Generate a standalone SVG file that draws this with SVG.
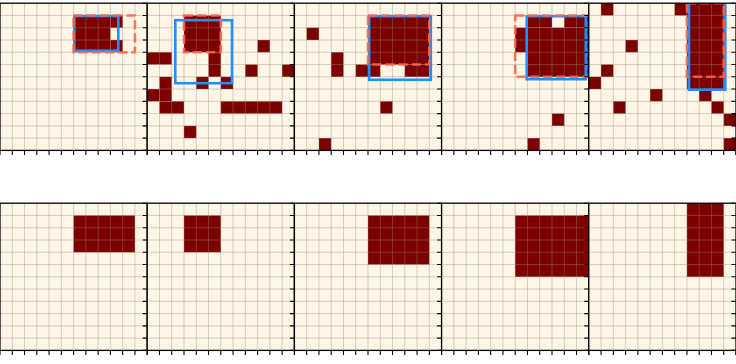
<svg xmlns="http://www.w3.org/2000/svg" width="736" height="364" viewBox="0 0 736 364">
<style>
.bg{fill:#fdf5e6}
.cell{fill:#7d0000}
.grid{fill:none;stroke:#9c8a78;stroke-opacity:0.38;stroke-width:1}
.frame{fill:none;stroke:#000;stroke-width:1.3}
.ticks{fill:none;stroke:#000;stroke-width:1.1}
.gt{fill:none;stroke:#ff6347;stroke-opacity:0.88;stroke-width:2.6;stroke-dasharray:9.2 4}
.pred{fill:none;stroke:#1e90ff;stroke-width:2.6}
</style>
<defs>
<rect id="bgr" class="bg" x="0" y="0" width="147.2" height="147.2"/>
<path id="grid" class="grid" d="M12.27 0V147.2M24.53 0V147.2M36.8 0V147.2M49.07 0V147.2M61.33 0V147.2M73.6 0V147.2M85.87 0V147.2M98.13 0V147.2M110.4 0V147.2M122.67 0V147.2M134.93 0V147.2M0 12.27H147.2M0 24.53H147.2M0 36.8H147.2M0 49.07H147.2M0 61.33H147.2M0 73.6H147.2M0 85.87H147.2M0 98.13H147.2M0 110.4H147.2M0 122.67H147.2M0 134.93H147.2"/>
<rect id="frame" class="frame" x="0" y="0" width="147.2" height="147.2"/>
<path id="ticks" class="ticks" d="M0 147.2v4.5M12.27 147.2v4.5M24.53 147.2v4.5M36.8 147.2v4.5M49.07 147.2v4.5M61.33 147.2v4.5M73.6 147.2v4.5M85.87 147.2v4.5M98.13 147.2v4.5M110.4 147.2v4.5M122.67 147.2v4.5M134.93 147.2v4.5M147.2 147.2v4.5M-4.5 0h4.5M-4.5 12.27h4.5M-4.5 24.53h4.5M-4.5 36.8h4.5M-4.5 49.07h4.5M-4.5 61.33h4.5M-4.5 73.6h4.5M-4.5 85.87h4.5M-4.5 98.13h4.5M-4.5 110.4h4.5M-4.5 122.67h4.5M-4.5 134.93h4.5M-4.5 147.2h4.5"/>
<clipPath id="c1"><rect x="0" y="3.2" width="147.2" height="147.2"/></clipPath>
<clipPath id="c2"><rect x="147.2" y="3.2" width="147.2" height="147.2"/></clipPath>
<clipPath id="c3"><rect x="294.4" y="3.2" width="147.2" height="147.2"/></clipPath>
<clipPath id="c4"><rect x="441.6" y="3.2" width="147.2" height="147.2"/></clipPath>
<clipPath id="c5"><rect x="588.8" y="3.2" width="147.2" height="147.2"/></clipPath>
</defs>

<g id="top-1">
<use href="#bgr" x="0" y="3.2"/>
<g class="cell" transform="translate(0,3.2) scale(12.2667)">
<rect x="6" y="1" width="3" height="3"/><rect x="9" y="1" width="1" height="1"/><rect x="9" y="3" width="1" height="1"/>
</g>
<use href="#grid" x="0" y="3.2"/>
<g clip-path="url(#c1)">
<rect class="pred" x="74.3" y="16" width="44" height="34.7"/>
<rect class="gt" x="73.6" y="15.47" width="61.33" height="36.8"/>
</g>
<use href="#frame" x="0" y="3.2"/>
<use href="#ticks" x="0" y="3.2"/>
</g>

<g id="top-2">
<use href="#bgr" x="147.2" y="3.2"/>
<g class="cell" transform="translate(147.2,3.2) scale(12.2667)">
<rect x="0" y="4" width="2" height="1"/><rect x="3" y="1" width="3" height="3"/><rect x="5" y="4" width="1" height="2"/>
<rect x="9" y="3" width="1" height="1"/><rect x="8" y="5" width="1" height="1"/><rect x="11" y="5" width="1" height="1"/>
<rect x="4" y="6" width="1" height="1"/><rect x="6" y="6" width="1" height="1"/><rect x="1" y="6" width="1" height="2"/>
<rect x="0" y="7" width="1" height="1"/><rect x="1" y="8" width="2" height="1"/><rect x="6" y="8" width="5" height="1"/>
<rect x="3" y="10" width="1" height="1"/>
</g>
<use href="#grid" x="147.2" y="3.2"/>
<g clip-path="url(#c2)">
<rect class="pred" x="175.3" y="20.2" width="56.7" height="63"/>
<rect class="gt" x="184" y="15.47" width="36.8" height="36.8"/>
</g>
<use href="#frame" x="147.2" y="3.2"/>
<use href="#ticks" x="147.2" y="3.2"/>
</g>

<g id="top-3">
<use href="#bgr" x="294.4" y="3.2"/>
<g class="cell" transform="translate(294.4,3.2) scale(12.2667)">
<rect x="1" y="2" width="1" height="1"/><rect x="3" y="4" width="1" height="2"/><rect x="5" y="5" width="1" height="1"/>
<rect x="6" y="1" width="5" height="4"/><rect x="6" y="5" width="1" height="1"/><rect x="9" y="5" width="2" height="1"/>
<rect x="7" y="8" width="1" height="1"/><rect x="2" y="11" width="1" height="1"/>
</g>
<use href="#grid" x="294.4" y="3.2"/>
<g clip-path="url(#c3)">
<rect class="pred" x="369.2" y="16.2" width="61.6" height="63.6"/>
<rect class="gt" x="368" y="15.47" width="61.33" height="49.07"/>
</g>
<use href="#frame" x="294.4" y="3.2"/>
<use href="#ticks" x="294.4" y="3.2"/>
</g>

<g id="top-4">
<use href="#bgr" x="441.6" y="3.2"/>
<g class="cell" transform="translate(441.6,3.2) scale(12.2667)">
<rect x="6" y="2" width="1" height="2"/><rect x="7" y="1" width="2" height="1"/><rect x="10" y="1" width="2" height="1"/>
<rect x="7" y="2" width="5" height="4"/><rect x="9" y="9" width="1" height="1"/><rect x="7" y="11" width="1" height="1"/>
</g>
<use href="#grid" x="441.6" y="3.2"/>
<g clip-path="url(#c4)">
<rect class="pred" x="526.7" y="16.2" width="59.1" height="63"/>
<rect class="gt" x="515.2" y="15.47" width="73.6" height="61.33"/>
</g>
<use href="#frame" x="441.6" y="3.2"/>
<use href="#ticks" x="441.6" y="3.2"/>
</g>

<g id="top-5">
<use href="#bgr" x="588.8" y="3.2"/>
<g class="cell" transform="translate(588.8,3.2) scale(12.2667)">
<rect x="1" y="0" width="1" height="1"/><rect x="7" y="0" width="1" height="1"/><rect x="8" y="0" width="3" height="7"/>
<rect x="3" y="3" width="1" height="1"/><rect x="1" y="5" width="1" height="1"/><rect x="0" y="6" width="1" height="1"/>
<rect x="5" y="7" width="1" height="1"/><rect x="9" y="7" width="1" height="1"/><rect x="2" y="8" width="1" height="1"/>
<rect x="10" y="8" width="1" height="1"/><rect x="11" y="9" width="1" height="1"/><rect x="11" y="11" width="1" height="1"/>
</g>
<use href="#grid" x="588.8" y="3.2"/>
<g clip-path="url(#c5)">
<rect class="pred" x="689" y="2" width="36.3" height="87.7"/>
<rect class="gt" x="686.93" y="3.2" width="36.8" height="73.6"/>
</g>
<use href="#frame" x="588.8" y="3.2"/>
<use href="#ticks" x="588.8" y="3.2"/>
</g>

<g id="bottom-1">
<use href="#bgr" x="0" y="203.2"/>
<g class="cell" transform="translate(0,203.2) scale(12.2667)"><rect x="6" y="1" width="5" height="3"/></g>
<use href="#grid" x="0" y="203.2"/>
<use href="#frame" x="0" y="203.2"/>
<use href="#ticks" x="0" y="203.2"/>
</g>

<g id="bottom-2">
<use href="#bgr" x="147.2" y="203.2"/>
<g class="cell" transform="translate(147.2,203.2) scale(12.2667)"><rect x="3" y="1" width="3" height="3"/></g>
<use href="#grid" x="147.2" y="203.2"/>
<use href="#frame" x="147.2" y="203.2"/>
<use href="#ticks" x="147.2" y="203.2"/>
</g>

<g id="bottom-3">
<use href="#bgr" x="294.4" y="203.2"/>
<g class="cell" transform="translate(294.4,203.2) scale(12.2667)"><rect x="6" y="1" width="5" height="4"/></g>
<use href="#grid" x="294.4" y="203.2"/>
<use href="#frame" x="294.4" y="203.2"/>
<use href="#ticks" x="294.4" y="203.2"/>
</g>

<g id="bottom-4">
<use href="#bgr" x="441.6" y="203.2"/>
<g class="cell" transform="translate(441.6,203.2) scale(12.2667)"><rect x="6" y="1" width="6" height="5"/></g>
<use href="#grid" x="441.6" y="203.2"/>
<use href="#frame" x="441.6" y="203.2"/>
<use href="#ticks" x="441.6" y="203.2"/>
</g>

<g id="bottom-5">
<use href="#bgr" x="588.8" y="203.2"/>
<g class="cell" transform="translate(588.8,203.2) scale(12.2667)"><rect x="8" y="0" width="3" height="6"/></g>
<use href="#grid" x="588.8" y="203.2"/>
<use href="#frame" x="588.8" y="203.2"/>
<use href="#ticks" x="588.8" y="203.2"/>
</g>

<g id="edge-ticks">
<use href="#ticks" x="736" y="3.2"/>
<use href="#ticks" x="736" y="203.2"/>
</g>
</svg>
